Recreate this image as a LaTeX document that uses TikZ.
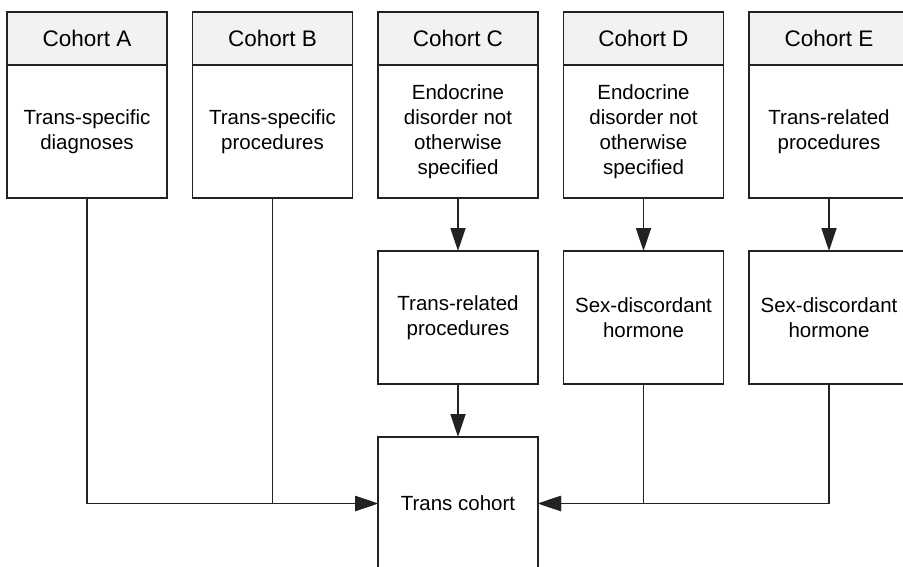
\documentclass[tikz,border=0pt]{standalone}
\usepackage{fontspec}
\setmainfont{Liberation Sans}
\usetikzlibrary{positioning,arrows.meta}
\definecolor{linegray}{HTML}{222222}
\definecolor{headfill}{HTML}{F2F2F2}

\begin{document}
\begin{tikzpicture}[x=1pt,y=1pt,
  box/.style={draw=linegray,line width=1.8pt,minimum width=160pt,align=center,inner sep=0pt,outer sep=0pt},
  head/.style={box,fill=headfill,minimum height=53pt,font=\fontsize{22.5}{26}\selectfont},
  body/.style={box,minimum height=133pt,font=\fontsize{20.5}{25}\selectfont},
  conn/.style={draw=linegray,line width=1.8pt,-{Triangle[length=23pt,width=15pt]}}]
\useasboundingbox (0,0) rectangle (903,-566);

% cohort headers
\node[head] (headA) at (87,-38.5) {Cohort A};
\node[head] (headB) at (272.5,-38.5) {Cohort B};
\node[head] (headC) at (458,-38.5) {Cohort C};
\node[head] (headD) at (643.5,-38.5) {Cohort D};
\node[head] (headE) at (829,-38.5) {Cohort E};

% first criterion
\node[body,below=0pt of headA] (bodyA) {Trans-specific\\diagnoses};
\node[body,below=0pt of headB] (bodyB) {Trans-specific\\procedures};
\node[body,below=0pt of headC] (bodyC) {Endocrine\\disorder not\\otherwise\\specified};
\node[body,below=0pt of headD] (bodyD) {Endocrine\\disorder not\\otherwise\\specified};
\node[body,below=0pt of headE] (bodyE) {Trans-related\\procedures};

% second criterion
\node[body,below=53pt of bodyC] (midC) {Trans-related\\procedures};
\node[body,below=53pt of bodyD] (midD) {Sex-discordant\\hormone};
\node[body,below=53pt of bodyE] (midE) {Sex-discordant\\hormone};

\node[body,below=53pt of midC] (trans) {Trans cohort};

\draw[conn] (bodyC) -- (midC);
\draw[conn] (bodyD) -- (midD);
\draw[conn] (bodyE) -- (midE);
\draw[conn] (midC) -- (trans);
\draw[conn] (bodyA.south) |- (trans.west);
\draw[conn] (bodyB.south) |- (trans.west);
\draw[conn] (midD.south) |- (trans.east);
\draw[conn] (midE.south) |- (trans.east);
\end{tikzpicture}
\end{document}
